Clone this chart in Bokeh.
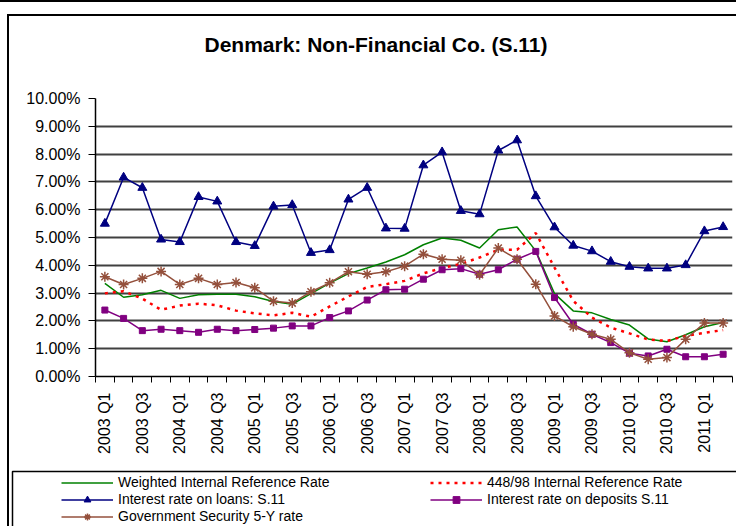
import math
from bokeh.plotting import figure
from bokeh.layouts import column
from bokeh.models import (Range1d, FixedTicker, PrintfTickFormatter, Legend, LegendItem,
                          BoxAnnotation, Label)
from bokeh.embed import file_html
from bokeh.resources import INLINE

quarters = ["2003 Q1", "2003 Q2", "2003 Q3", "2003 Q4", "2004 Q1", "2004 Q2", "2004 Q3", "2004 Q4",
            "2005 Q1", "2005 Q2", "2005 Q3", "2005 Q4", "2006 Q1", "2006 Q2", "2006 Q3", "2006 Q4",
            "2007 Q1", "2007 Q2", "2007 Q3", "2007 Q4", "2008 Q1", "2008 Q2", "2008 Q3", "2008 Q4",
            "2009 Q1", "2009 Q2", "2009 Q3", "2009 Q4", "2010 Q1", "2010 Q2", "2010 Q3", "2010 Q4",
            "2011 Q1", "2011 Q2"]

weighted_ref = [3.35, 2.85, 2.94, 3.10, 2.81, 2.94, 2.96, 2.96, 2.87, 2.70, 2.60, 2.98, 3.36, 3.70,
                3.90, 4.12, 4.38, 4.74, 4.98, 4.90, 4.62, 5.28, 5.38, 4.52, 2.98, 2.36, 2.29, 2.05,
                1.85, 1.35, 1.25, 1.50, 1.79, 1.94]
ref_448_98 = [2.99, 3.07, 2.80, 2.40, 2.55, 2.62, 2.56, 2.37, 2.27, 2.20, 2.29, 2.15, 2.52, 2.88,
              3.22, 3.32, 3.44, 3.71, 3.90, 4.05, 4.28, 4.56, 4.56, 5.16, 3.92, 2.72, 2.12, 1.76,
              1.55, 1.33, 1.28, 1.46, 1.57, 1.67]
loans = [5.50, 7.16, 6.79, 4.93, 4.84, 6.46, 6.30, 4.84, 4.70, 6.12, 6.17, 4.45, 4.55, 6.37, 6.79,
         5.33, 5.32, 7.60, 8.07, 5.96, 5.84, 8.13, 8.50, 6.49, 5.37, 4.71, 4.51, 4.13, 3.95, 3.89,
         3.89, 4.01, 5.23, 5.38]
deposits = [2.39, 2.09, 1.65, 1.70, 1.65, 1.59, 1.70, 1.65, 1.69, 1.74, 1.82, 1.82, 2.12, 2.36,
            2.75, 3.12, 3.14, 3.50, 3.84, 3.88, 3.68, 3.84, 4.22, 4.50, 2.84, 1.88, 1.52, 1.22,
            0.84, 0.74, 0.98, 0.71, 0.71, 0.80]
gov_5y = [3.59, 3.31, 3.53, 3.78, 3.31, 3.53, 3.31, 3.38, 3.19, 2.71, 2.64, 3.05, 3.37, 3.77, 3.68,
          3.77, 3.97, 4.40, 4.22, 4.18, 3.66, 4.62, 4.22, 3.32, 2.18, 1.79, 1.52, 1.34, 0.85, 0.62,
          0.68, 1.34, 1.92, 1.92]
y_ticks = [0, 1, 2, 3, 4, 5, 6, 7, 8, 9, 10]

series_names = ["Weighted Internal Reference Rate", "448/98 Internal Reference Rate",
                "Interest rate on loans: S.11", "Interest rate on deposits S.11",
                "Government Security 5-Y rate"]
title_text = "Denmark: Non-Financial Co. (S.11)"

FONT = "Liberation Sans"
W = 727
H_TITLE = 54
H_MAIN = 397
H_LEG = 59

x = list(range(len(quarters)))


def strip(height):
    f = figure(width=W, height=height, output_backend="svg", toolbar_location=None,
               x_range=Range1d(-0.5, len(quarters) - 0.5), y_range=Range1d(-100, -99),
               x_axis_location=None, y_axis_location=None, frame_align=False,
               min_border_left=0, min_border_right=0, min_border_top=0, min_border_bottom=0)
    f.outline_line_color = None
    f.grid.visible = False
    f.background_fill_color = "white"
    f.border_fill_color = "white"
    return f


# ---- title strip ----
tf = strip(H_TITLE)
tf.add_layout(Label(x=366.5, y=H_TITLE - 28, x_units="screen", y_units="screen",
                    text=title_text, text_font=FONT, text_font_size="21px",
                    text_font_style="bold", text_align="center", text_baseline="middle",
                    text_color="black"))

# ---- main chart ----
p = figure(width=W, height=H_MAIN, output_backend="svg", toolbar_location=None,
           x_range=Range1d(-0.5, len(quarters) - 0.5), y_range=Range1d(0, 10), frame_align=False,
           min_border_left=86, min_border_right=4, min_border_top=28, min_border_bottom=91)
p.outline_line_color = None
p.background_fill_color = "white"
p.border_fill_color = "white"

xa = p.xaxis[0]
xa.ticker = FixedTicker(ticks=x[::2], minor_ticks=[i - 0.5 for i in range(len(quarters) + 1)])
xa.major_label_overrides = {i: quarters[i] for i in x[::2]}
xa.major_label_orientation = math.pi / 2
xa.major_tick_line_color = None
xa.minor_tick_line_color = "black"
xa.minor_tick_out = 6
xa.minor_tick_in = 0
xa.minor_tick_line_width = 1
xa.major_label_standoff = 10
xa.major_label_text_font = FONT
xa.major_label_text_font_size = "16px"
xa.major_label_text_color = "black"
xa.axis_line_color = "black"
xa.axis_line_width = 1.5

ya = p.yaxis[0]
ya.ticker = FixedTicker(ticks=y_ticks)
ya.formatter = PrintfTickFormatter(format="%.2f%%")
ya.major_tick_out = 7
ya.major_tick_in = 0
ya.minor_tick_line_color = None
ya.major_label_standoff = 8
ya.major_label_text_font = FONT
ya.major_label_text_font_size = "16px"
ya.major_label_text_color = "black"
ya.axis_line_color = "black"
ya.axis_line_width = 1.5

p.xgrid.visible = False
p.ygrid.ticker = FixedTicker(ticks=y_ticks)
p.ygrid.grid_line_color = "#404040"
p.ygrid.grid_line_width = 2

styles = {
    "green": dict(line_color="#008000", line_width=1.5),
    "red": dict(line_color="#FF0000", line_width=2.5, line_dash="3 5"),
    "blue": dict(line_color="#000080", line_width=1.5),
    "purple": dict(line_color="#800080", line_width=1.5),
    "brown": dict(line_color="#94503C", line_width=1.5),
}
mk_blue = dict(marker="triangle", size=9, fill_color="#000080", line_color="#000080")
mk_pur = dict(marker="square", size=6, fill_color="#800080", line_color="#800080")
mk_brn = dict(marker="asterisk", size=10, line_color="#94503C", line_width=1.5)


def draw(f):
    r = {}
    r["green"] = [f.line(x, weighted_ref, **styles["green"])]
    r["red"] = [f.line(x, ref_448_98, **styles["red"])]
    r["blue"] = [f.line(x, loans, **styles["blue"]), f.scatter(x, loans, **mk_blue)]
    r["purple"] = [f.line(x, deposits, **styles["purple"]), f.scatter(x, deposits, **mk_pur)]
    r["brown"] = [f.line(x, gov_5y, **styles["brown"]), f.scatter(x, gov_5y, **mk_brn)]
    return r


draw(p)

# ---- legend strip (same series, drawn outside its visible y range) ----
lf = strip(H_LEG)
lr = draw(lf)

lf.add_layout(BoxAnnotation(left=3, right=3000, top=H_LEG - 4, bottom=-300,
                            left_units="screen", right_units="screen", top_units="screen",
                            bottom_units="screen", fill_alpha=0, line_color="black",
                            line_width=1.5, line_alpha=1))

ROW = 17


def make_legend(items, left, top):
    hgt = ROW * len(items)
    return Legend(items=items, location=(left, H_LEG - (top + hgt)),
                  orientation="vertical", border_line_color=None, background_fill_alpha=0,
                  padding=0, margin=0, spacing=0, glyph_width=52, glyph_height=ROW,
                  label_height=ROW, label_standoff=5, label_text_font=FONT,
                  label_text_font_size="14px", label_text_color="black")


lf.add_layout(make_legend([LegendItem(label=series_names[0], renderers=lr["green"]),
                           LegendItem(label=series_names[2], renderers=lr["blue"]),
                           LegendItem(label=series_names[4], renderers=lr["brown"])],
                          52, 6.5))
lf.add_layout(make_legend([LegendItem(label=series_names[1], renderers=lr["red"]),
                           LegendItem(label=series_names[3], renderers=lr["purple"])],
                          421, 6.5))

inner = column(tf, p, lf, spacing=0, margin=(12, 0, 0, 7),
               styles={"border-top": "2px solid black", "border-left": "2px solid black"})
outer = column(inner, spacing=0, margin=0, styles={"border-top": "2px solid black"})

open("out.html", "w").write(file_html(outer, INLINE))
